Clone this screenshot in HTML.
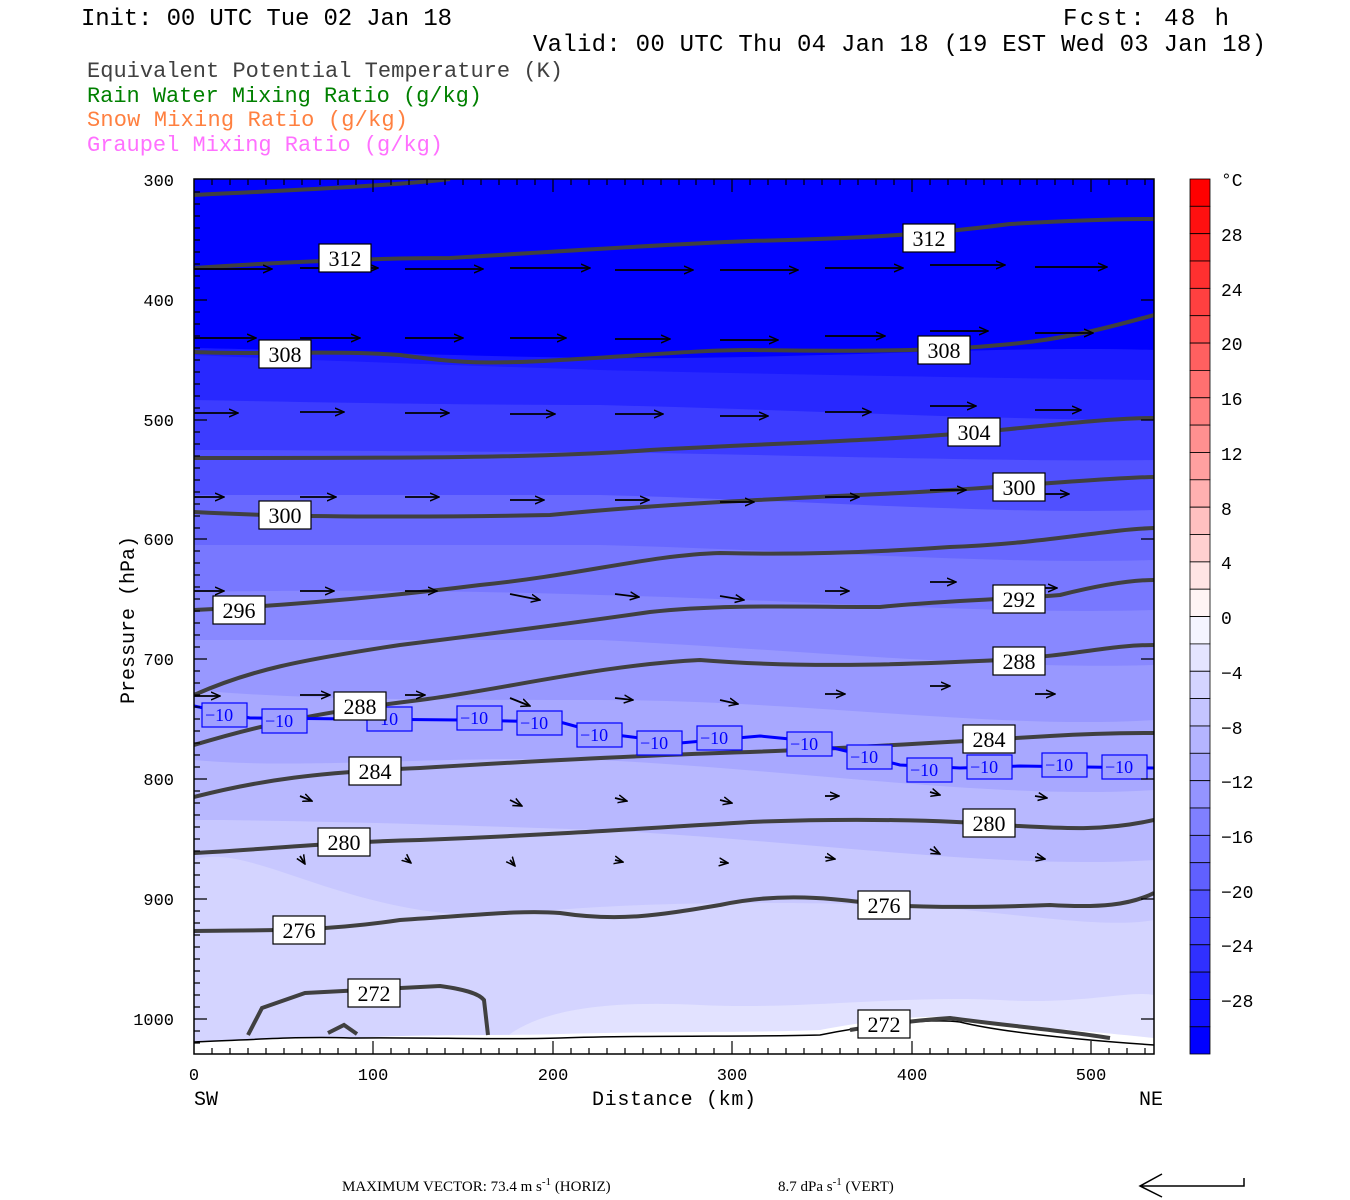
<!DOCTYPE html>
<html><head><meta charset="utf-8"><style>
html,body{margin:0;padding:0;background:#fff;width:1350px;height:1200px;overflow:hidden}
svg{display:block}
.t{font-family:"Liberation Mono",monospace;}
.lb{font-family:"Liberation Serif",serif;font-size:22px;fill:#000}
</style></head><body>
<svg width="1350" height="1200" viewBox="0 0 1350 1200" xmlns="http://www.w3.org/2000/svg">
<defs>
<marker id="ah" markerWidth="10" markerHeight="10" refX="9" refY="5" orient="auto" markerUnits="userSpaceOnUse">
<path d="M0,1 L9,5 L0,9" fill="none" stroke="#000" stroke-width="1.5"/>
</marker>
<clipPath id="pc"><rect x="194" y="179" width="960" height="875"/></clipPath>
</defs>
<g class="t" font-size="24" fill="#000">
<text x="81" y="25" textLength="371">Init: 00 UTC Tue 02 Jan 18</text>
<text x="1063" y="25" textLength="166">Fcst:  48 h</text>
<text x="533" y="51" textLength="733">Valid: 00 UTC Thu 04 Jan 18 (19 EST Wed 03 Jan 18)</text>
</g>
<g class="t" font-size="22">
<text x="87" y="77" fill="#404040" textLength="476">Equivalent Potential Temperature (K)</text>
<text x="87" y="102" fill="#008000" textLength="395">Rain Water Mixing Ratio (g/kg)</text>
<text x="87" y="126" fill="#ff8040" textLength="321">Snow Mixing Ratio (g/kg)</text>
<text x="87" y="151" fill="#ff70ff" textLength="356">Graupel Mixing Ratio (g/kg)</text>
</g>
<g clip-path="url(#pc)">
<rect x="194" y="179" width="960" height="875" fill="#d4d4ff"/>
<path d="M194,179H1154V920 C1100,930 1000,910 900,905 C700,900 600,905 500,915 C350,920 250,840 194,860Z" fill="#c8c8ff"/>
<path d="M194,179H1154V860 C1000,870 800,840 600,830 C450,825 300,820 194,820Z" fill="#b8b8ff"/>
<path d="M194,179H1154V790 C1000,800 800,770 600,760 C450,755 300,770 194,760Z" fill="#a8a8ff"/>
<path d="M194,179H1154V720 C1000,730 800,700 600,700 C450,700 300,700 194,690Z" fill="#9898ff"/>
<path d="M194,179H1154V665 C1000,670 800,650 600,640 C450,640 300,640 194,640Z" fill="#8888ff"/>
<path d="M194,179H1154V610 C1000,615 800,600 600,595 C450,590 300,590 194,592Z" fill="#7878ff"/>
<path d="M194,179H1154V560 C1000,565 800,550 600,545 C450,545 300,545 194,545Z" fill="#6868ff"/>
<path d="M194,179H1154V510 C1000,515 800,500 600,495 C450,495 300,495 194,495Z" fill="#5050ff"/>
<path d="M194,179H1154V460 C1000,462 800,455 600,452 C450,452 300,450 194,450Z" fill="#3c3cff"/>
<path d="M194,179H1154V420 C1000,420 800,410 600,405 C450,405 300,402 194,400Z" fill="#2828ff"/>
<path d="M194,179H1154V380 C1000,378 800,375 600,370 C450,365 300,360 194,355Z" fill="#1a1aff"/>
<path d="M194,179H1154V350 C1000,345 800,360 600,358 C450,356 300,350 194,348Z" fill="#0000ff"/>
<path d="M490,1054 C520,1010 600,1000 700,1005 C800,1010 900,995 1000,1000 C1080,1005 1130,990 1154,995V1054Z" fill="#e2e2ff"/>
<path d="M194,1054 L194,1042 C250,1040 300,1036 350,1038 C420,1034 500,1036 560,1034 C650,1031 750,1033 820,1030 C870,1020 930,1014 960,1018 C1000,1025 1080,1030 1154,1038 V1054Z" fill="#fff"/>
<path d="M194,1042 C250,1040 300,1036 350,1038 C420,1037 500,1040 560,1038 C650,1035 750,1037 820,1035 C870,1025 930,1018 960,1022 C1000,1032 1080,1040 1154,1045" fill="none" stroke="#000" stroke-width="1.5"/>
<g fill="none" stroke="#404040" stroke-width="4">
<path d="M194,195 C300,190 400,185 450,179"/>
<path d="M194,268 C280,262 380,258 450,258 C550,252 650,245 750,241 C880,238 950,232 1010,224 C1080,220 1120,219 1154,219"/>
<path d="M194,352 C260,355 330,350 400,355 C450,362 480,365 560,360 C650,355 700,350 750,350 C880,352 950,350 1000,345 C1060,340 1100,330 1154,315"/>
<path d="M194,458 C400,458 550,458 650,450 C800,442 900,440 1000,430 C1080,422 1120,418 1154,418"/>
<path d="M194,512 C300,518 450,517 550,515 C650,505 750,500 900,493 C1000,488 1100,478 1154,477"/>
<path d="M194,610 C300,605 400,595 480,585 C580,575 650,555 720,553 C800,555 880,552 950,547 C1050,543 1100,530 1154,528"/>
<path d="M194,695 C250,670 300,660 400,645 C480,635 560,625 650,612 C720,604 800,607 880,607 C950,600 1000,600 1060,595 C1100,585 1130,580 1154,580"/>
<path d="M194,745 C260,725 320,712 420,700 C500,690 600,665 700,660 C800,668 900,665 1000,660 C1080,655 1110,645 1154,645"/>
<path d="M194,797 C260,780 320,772 420,768 C550,760 650,755 750,752 C850,748 950,742 1050,736 C1100,733 1130,733 1154,733"/>
<path d="M194,853 C260,850 330,842 420,840 C550,835 650,828 750,822 C850,818 950,820 1000,825 C1060,828 1100,832 1154,820"/>
<path d="M194,931 C260,930 320,932 400,920 C480,915 520,910 560,913 C620,922 660,915 720,905 C780,892 830,898 885,905 C940,908 1000,907 1050,905 C1100,908 1130,905 1154,893"/>
<path d="M248,1035 L262,1008 L305,993 L440,986 C470,990 480,995 484,1000 L488,1035"/>
<path d="M328,1033 L344,1025 L357,1034"/>
<path d="M850,1030 C880,1025 920,1020 950,1018 C1000,1025 1060,1030 1110,1038"/>
</g>
<path d="M194,706 L250,718 L460,720 L560,722 L600,733 L680,743 L760,736 L800,740 L850,752 L900,765 L960,768 L1020,766 L1154,768" fill="none" stroke="#0000ff" stroke-width="3"/>
<g font-family="Liberation Serif,serif" font-size="18" fill="#0000ff">
<g fill="#a0a0ff" stroke="#0000ff" stroke-width="1.2">
<rect x="202" y="703" width="45" height="24"/><rect x="262" y="709" width="45" height="24"/><rect x="367" y="707" width="45" height="24"/><rect x="457" y="706" width="45" height="24"/><rect x="517" y="711" width="45" height="24"/><rect x="577" y="723" width="45" height="24"/><rect x="637" y="731" width="45" height="24"/><rect x="697" y="726" width="45" height="24"/><rect x="787" y="732" width="45" height="24"/><rect x="847" y="745" width="45" height="24"/><rect x="907" y="758" width="45" height="24"/><rect x="967" y="755" width="45" height="24"/><rect x="1042" y="753" width="45" height="24"/><rect x="1102" y="755" width="45" height="24"/>
</g>
<text x="205" y="721">−10</text><text x="265" y="727">−10</text><text x="370" y="725">−10</text><text x="460" y="724">−10</text><text x="520" y="729">−10</text><text x="580" y="741">−10</text><text x="640" y="749">−10</text><text x="700" y="744">−10</text><text x="790" y="750">−10</text><text x="850" y="763">−10</text><text x="910" y="776">−10</text><text x="970" y="773">−10</text><text x="1045" y="771">−10</text><text x="1105" y="773">−10</text>
</g>
<g stroke="#000" stroke-width="1.8" marker-end="url(#ah)" fill="none">
<path d="M194,269h78"/><path d="M300,268h78"/><path d="M405,269h78"/><path d="M510,268h80"/><path d="M615,270h78"/><path d="M720,270h78"/><path d="M825,268h78"/><path d="M930,265h75"/><path d="M1035,267h72"/>
<path d="M194,338h62"/><path d="M300,338h60"/><path d="M405,338h58"/><path d="M510,338h56"/><path d="M615,339h55"/><path d="M720,340h58"/><path d="M825,336h60"/><path d="M930,331h58"/><path d="M1035,333h58"/>
<path d="M194,413h44"/><path d="M300,412h44"/><path d="M405,413h44"/><path d="M510,414h45"/><path d="M615,414h48"/><path d="M720,416h48"/><path d="M825,412h46"/><path d="M930,406h46"/><path d="M1035,410h46"/>
<path d="M194,497h30"/><path d="M300,497h36"/><path d="M405,497h34"/><path d="M510,500h34"/><path d="M615,500h34"/><path d="M720,502h34"/><path d="M825,497h34"/><path d="M930,490h36"/><path d="M1035,494h34"/>
<path d="M194,591h30"/><path d="M300,591h34"/><path d="M405,591h32"/><path d="M510,594l30,6"/><path d="M615,594l24,3"/><path d="M720,596l24,4"/><path d="M825,591h24"/><path d="M930,582h26"/><path d="M1035,588h22"/>
<path d="M194,696h26"/><path d="M300,695h30"/><path d="M405,695h20"/><path d="M510,698l20,8"/><path d="M615,698l18,2"/><path d="M720,700l18,4"/><path d="M825,694h20"/><path d="M930,686h20"/><path d="M1035,694h20"/>
<path d="M300,796l12,5"/><path d="M510,800l12,6"/><path d="M615,798l12,3"/><path d="M720,800l12,3"/><path d="M825,796h14"/><path d="M930,792l10,3"/><path d="M1035,796l12,2"/>
<path d="M300,856l5,8"/><path d="M405,858l6,5"/><path d="M510,860l5,6"/><path d="M615,860l8,2"/><path d="M720,862l8,1"/><path d="M825,857l10,2"/><path d="M930,849l10,5"/><path d="M1035,857l10,2"/>
</g>
</g>
<g fill="#fff" stroke="#000" stroke-width="1.2">
<rect x="319" y="244" width="52" height="28"/><rect x="903" y="224" width="52" height="28"/>
<rect x="259" y="340" width="52" height="28"/><rect x="918" y="336" width="52" height="28"/>
<rect x="948" y="418" width="52" height="28"/>
<rect x="259" y="501" width="52" height="28"/><rect x="993" y="473" width="52" height="28"/>
<rect x="213" y="596" width="52" height="28"/><rect x="993" y="585" width="52" height="28"/>
<rect x="993" y="647" width="52" height="28"/><rect x="334" y="692" width="52" height="28"/>
<rect x="349" y="757" width="52" height="28"/><rect x="963" y="725" width="52" height="28"/>
<rect x="318" y="828" width="52" height="28"/><rect x="963" y="809" width="52" height="28"/>
<rect x="273" y="916" width="52" height="28"/><rect x="858" y="891" width="52" height="28"/>
<rect x="348" y="979" width="52" height="28"/><rect x="858" y="1010" width="52" height="28"/>
</g>
<g class="lb" text-anchor="middle">
<text x="345" y="266">312</text><text x="929" y="246">312</text>
<text x="285" y="362">308</text><text x="944" y="358">308</text>
<text x="974" y="440">304</text>
<text x="285" y="523">300</text><text x="1019" y="495">300</text>
<text x="239" y="618">296</text><text x="1019" y="607">292</text>
<text x="1019" y="669">288</text><text x="360" y="714">288</text>
<text x="375" y="779">284</text><text x="989" y="747">284</text>
<text x="344" y="850">280</text><text x="989" y="831">280</text>
<text x="299" y="938">276</text><text x="884" y="913">276</text>
<text x="374" y="1001">272</text><text x="884" y="1032">272</text>
</g>
<rect x="194" y="179" width="960" height="875" fill="none" stroke="#000" stroke-width="1.5"/>
<g stroke="#000" stroke-width="1.2">
<path d="M194,300h13M194,420h13M194,539h13M194,659h13M194,779h13M194,899h13M194,1019h13"/>
<path d="M1154,300h-13M1154,420h-13M1154,539h-13M1154,659h-13M1154,779h-13M1154,899h-13M1154,1019h-13"/>
<path d="M194,192h6M194,204h6M194,216h6M194,228h6M194,240h6M194,252h6M194,264h6M194,276h6M194,288h6M194,312h6M194,324h6M194,336h6M194,348h6M194,360h6M194,372h6M194,384h6M194,396h6M194,408h6M194,432h6M194,444h6M194,456h6M194,468h6M194,480h6M194,492h6M194,504h6M194,516h6M194,528h6M194,551h6M194,563h6M194,575h6M194,587h6M194,599h6M194,611h6M194,623h6M194,635h6M194,647h6M194,671h6M194,683h6M194,695h6M194,707h6M194,719h6M194,731h6M194,743h6M194,755h6M194,767h6M194,791h6M194,803h6M194,815h6M194,827h6M194,839h6M194,851h6M194,863h6M194,875h6M194,887h6M194,911h6M194,923h6M194,935h6M194,947h6M194,959h6M194,971h6M194,983h6M194,995h6M194,1007h6M194,1031h6M194,1043h6"/>
<path d="M373,1054v-13M553,1054v-13M732,1054v-13M912,1054v-13M1091,1054v-13M373,179v13M553,179v13M732,179v13M912,179v13M1091,179v13"/>
<path d="M212,1054v-6M230,1054v-6M248,1054v-6M266,1054v-6M284,1054v-6M302,1054v-6M320,1054v-6M338,1054v-6M356,1054v-6M391,1054v-6M409,1054v-6M427,1054v-6M445,1054v-6M463,1054v-6M481,1054v-6M499,1054v-6M517,1054v-6M535,1054v-6M571,1054v-6M589,1054v-6M607,1054v-6M625,1054v-6M643,1054v-6M661,1054v-6M679,1054v-6M696,1054v-6M714,1054v-6M750,1054v-6M768,1054v-6M786,1054v-6M804,1054v-6M822,1054v-6M840,1054v-6M858,1054v-6M876,1054v-6M894,1054v-6M930,1054v-6M948,1054v-6M966,1054v-6M984,1054v-6M1002,1054v-6M1020,1054v-6M1037,1054v-6M1055,1054v-6M1073,1054v-6M1109,1054v-6M1127,1054v-6M1145,1054v-6"/>
<path d="M212,179v6M230,179v6M248,179v6M266,179v6M284,179v6M302,179v6M320,179v6M338,179v6M356,179v6M391,179v6M409,179v6M427,179v6M445,179v6M463,179v6M481,179v6M499,179v6M517,179v6M535,179v6M571,179v6M589,179v6M607,179v6M625,179v6M643,179v6M661,179v6M679,179v6M696,179v6M714,179v6M750,179v6M768,179v6M786,179v6M804,179v6M822,179v6M840,179v6M858,179v6M876,179v6M894,179v6M930,179v6M948,179v6M966,179v6M984,179v6M1002,179v6M1020,179v6M1037,179v6M1055,179v6M1073,179v6M1109,179v6M1127,179v6M1145,179v6"/>
</g>
<g class="t" font-size="17" fill="#000" text-anchor="end">
<text x="174" y="186">300</text><text x="174" y="306">400</text><text x="174" y="426">500</text><text x="174" y="545">600</text><text x="174" y="665">700</text><text x="174" y="785">800</text><text x="174" y="905">900</text><text x="174" y="1025">1000</text>
</g>
<g class="t" font-size="17" fill="#000" text-anchor="middle">
<text x="194" y="1080">0</text><text x="373" y="1080">100</text><text x="553" y="1080">200</text><text x="732" y="1080">300</text><text x="912" y="1080">400</text><text x="1091" y="1080">500</text>
</g>
<g class="t" font-size="20" fill="#000">
<text x="194" y="1105">SW</text><text x="1139" y="1105">NE</text><text x="592" y="1105" textLength="164">Distance (km)</text>
<text transform="translate(134,704) rotate(-90)">Pressure (hPa)</text>
</g>
<g stroke="#000" stroke-width="0.8">
<rect x="1190" y="179.0" width="20" height="27.3" fill="rgb(255,0,0)"/>
<rect x="1190" y="206.3" width="20" height="27.3" fill="rgb(255,16,16)"/>
<rect x="1190" y="233.7" width="20" height="27.3" fill="rgb(255,32,32)"/>
<rect x="1190" y="261.0" width="20" height="27.3" fill="rgb(255,48,48)"/>
<rect x="1190" y="288.4" width="20" height="27.3" fill="rgb(255,64,64)"/>
<rect x="1190" y="315.7" width="20" height="27.3" fill="rgb(255,80,80)"/>
<rect x="1190" y="343.1" width="20" height="27.3" fill="rgb(255,96,96)"/>
<rect x="1190" y="370.4" width="20" height="27.3" fill="rgb(255,112,112)"/>
<rect x="1190" y="397.8" width="20" height="27.3" fill="rgb(255,128,128)"/>
<rect x="1190" y="425.1" width="20" height="27.3" fill="rgb(255,144,144)"/>
<rect x="1190" y="452.5" width="20" height="27.3" fill="rgb(255,160,160)"/>
<rect x="1190" y="479.8" width="20" height="27.3" fill="rgb(255,176,176)"/>
<rect x="1190" y="507.2" width="20" height="27.3" fill="rgb(255,192,192)"/>
<rect x="1190" y="534.5" width="20" height="27.3" fill="rgb(255,208,208)"/>
<rect x="1190" y="561.9" width="20" height="27.3" fill="rgb(255,228,228)"/>
<rect x="1190" y="589.2" width="20" height="27.3" fill="rgb(255,245,245)"/>
<rect x="1190" y="616.6" width="20" height="27.3" fill="rgb(245,245,255)"/>
<rect x="1190" y="643.9" width="20" height="27.3" fill="rgb(228,228,255)"/>
<rect x="1190" y="671.3" width="20" height="27.3" fill="rgb(212,212,255)"/>
<rect x="1190" y="698.6" width="20" height="27.3" fill="rgb(196,196,255)"/>
<rect x="1190" y="726.0" width="20" height="27.3" fill="rgb(180,180,255)"/>
<rect x="1190" y="753.3" width="20" height="27.3" fill="rgb(164,164,255)"/>
<rect x="1190" y="780.7" width="20" height="27.3" fill="rgb(148,148,255)"/>
<rect x="1190" y="808.0" width="20" height="27.3" fill="rgb(128,128,255)"/>
<rect x="1190" y="835.4" width="20" height="27.3" fill="rgb(112,112,255)"/>
<rect x="1190" y="862.7" width="20" height="27.3" fill="rgb(96,96,255)"/>
<rect x="1190" y="890.1" width="20" height="27.3" fill="rgb(80,80,255)"/>
<rect x="1190" y="917.4" width="20" height="27.3" fill="rgb(64,64,255)"/>
<rect x="1190" y="944.8" width="20" height="27.3" fill="rgb(48,48,255)"/>
<rect x="1190" y="972.1" width="20" height="27.3" fill="rgb(32,32,255)"/>
<rect x="1190" y="999.5" width="20" height="27.3" fill="rgb(16,16,255)"/>
<rect x="1190" y="1026.8" width="20" height="27.2" fill="rgb(0,0,255)"/>
</g>
<g class="t" font-size="18" fill="#000">
<text x="1221" y="186">°C</text>
<text x="1221" y="241">28</text><text x="1221" y="296">24</text><text x="1221" y="350">20</text><text x="1221" y="405">16</text><text x="1221" y="460">12</text><text x="1221" y="515">8</text><text x="1221" y="569">4</text><text x="1221" y="624">0</text>
<text x="1221" y="679">−4</text><text x="1221" y="734">−8</text><text x="1221" y="788">−12</text><text x="1221" y="843">−16</text><text x="1221" y="898">−20</text><text x="1221" y="952">−24</text><text x="1221" y="1007">−28</text>
</g>
<g font-family="Liberation Serif,serif" font-size="15" fill="#000">
<text x="342" y="1191">MAXIMUM VECTOR:  73.4 m s<tspan dy="-6" font-size="11">-1</tspan><tspan dy="6"> (HORIZ)</tspan></text>
<text x="778" y="1191">8.7 dPa s<tspan dy="-6" font-size="11">-1</tspan><tspan dy="6"> (VERT)</tspan></text>
</g>
<path d="M1244,1178 v8 H1140 M1162,1174 L1140,1186 L1162,1197" fill="none" stroke="#000" stroke-width="1.5"/>
</svg>
</body></html>
